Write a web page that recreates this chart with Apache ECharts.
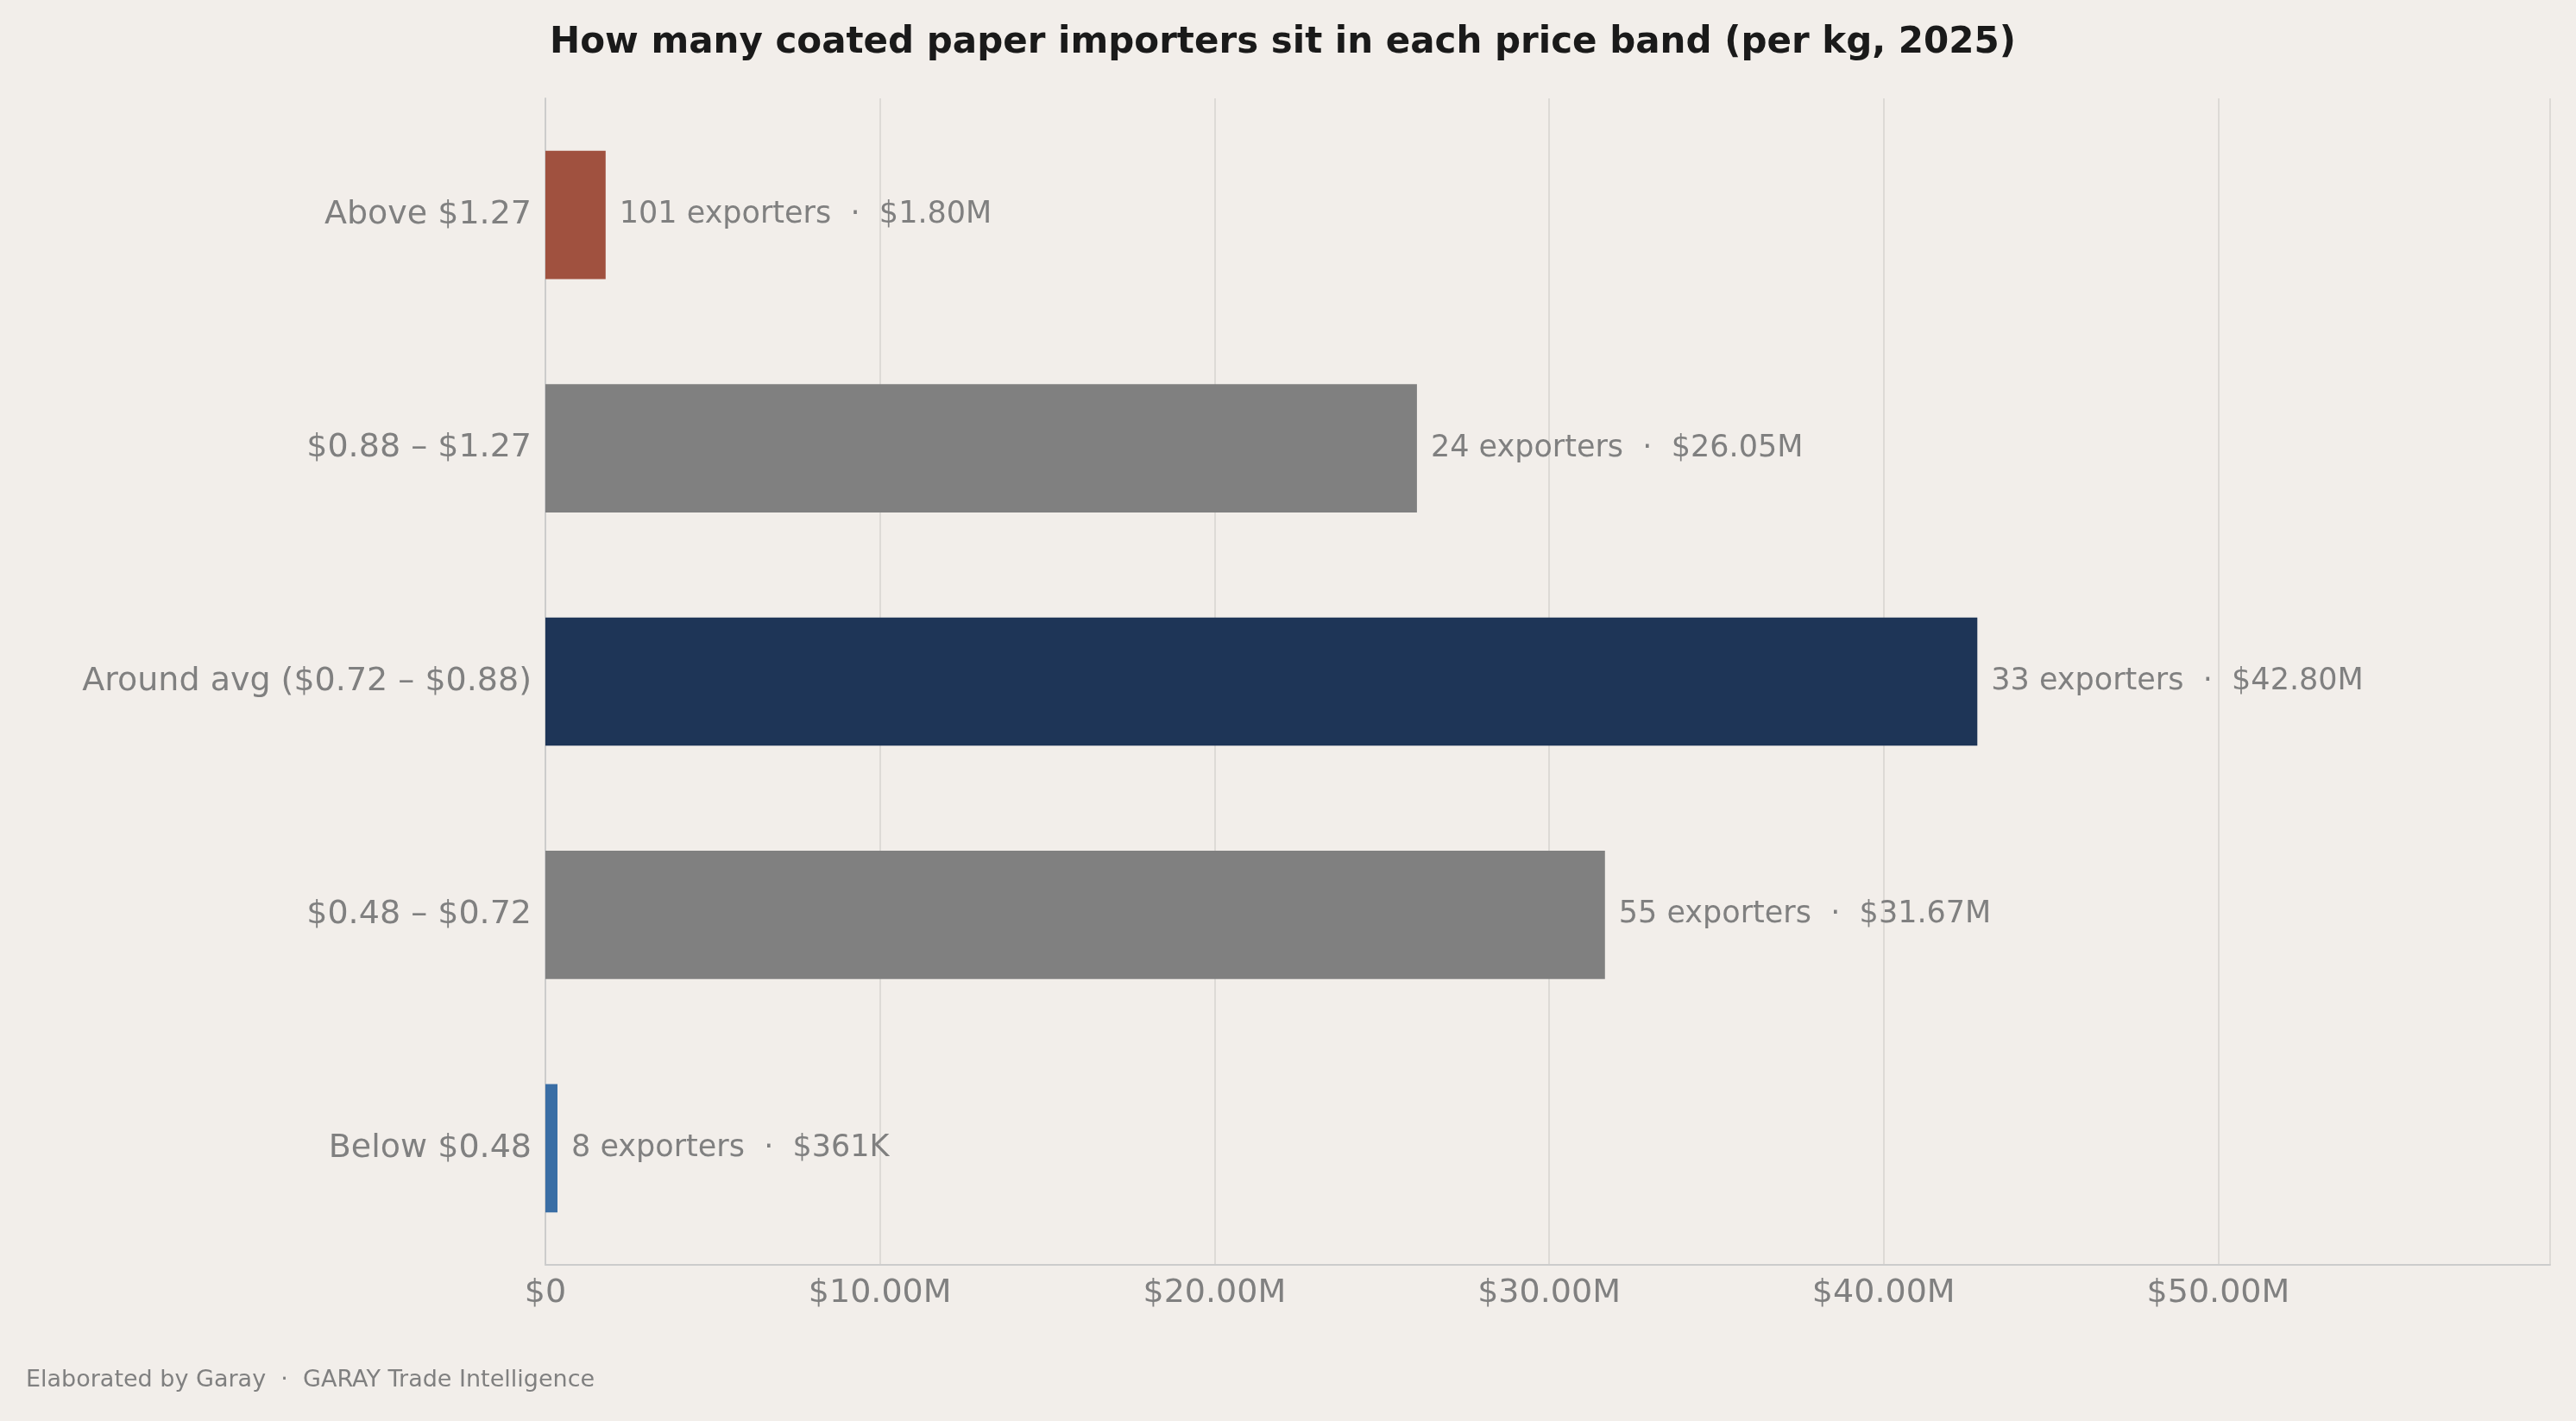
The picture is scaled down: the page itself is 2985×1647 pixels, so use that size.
<!DOCTYPE html>
<html><head><meta charset="utf-8">
<script src="https://cdn.jsdelivr.net/npm/echarts@6/dist/echarts.min.js"></script>
<style>html,body{margin:0;padding:0;background:#F2EEEA}#c{width:2985px;height:1647px}</style>
</head><body><div id="c"></div>
<script>
const categories = ["Below $0.48", "$0.48 – $0.72", "Around avg ($0.72 – $0.88)", "$0.88 – $1.27", "Above $1.27"];
const values = [0.361, 31.67, 42.80, 26.05, 1.80];
const exporters = [8, 55, 33, 24, 101];
const valueLabels = ["$361K", "$31.67M", "$42.80M", "$26.05M", "$1.80M"];
const colors = ["#3A6EA5", "#808080", "#1E3557", "#808080", "#A0513F"];
const chart = echarts.init(document.getElementById('c'));
const font = '"DejaVu Sans", sans-serif';
chart.setOption({
  backgroundColor: '#F2EEEA',
  title: { text: 'How many coated paper importers sit in each price band (per kg, 2025)', left: 632, top: 24,
    textStyle: { fontFamily: font, fontSize: 42, fontWeight: 'bold', color: '#1a1a1a' } },
  graphic: [{ type: 'text', left: 30, top: 1586, style: { text: 'Elaborated by Garay  ·  GARAY Trade Intelligence', font: '27px "DejaVu Sans", sans-serif', fill: '#808080' } }],
  grid: { left: 632, right: 30, top: 114, bottom: 181 },
  xAxis: { type: 'value', min: 0, max: 59.92, interval: 10,
    axisLine: { show: true, lineStyle: { color: '#cccccc', width: 2 } }, axisTick: { show: false },
    splitLine: { lineStyle: { color: '#dddad6', width: 2 } },
    axisLabel: { showMaxLabel: false, fontFamily: font, fontSize: 38, color: '#808080', margin: 14,
      formatter: v => v === 0 ? '$0' : '$' + v.toFixed(2) + 'M' } },
  yAxis: { type: 'category', data: categories,
    axisLine: { show: true, lineStyle: { color: '#cccccc', width: 2 } }, axisTick: { show: false },
    axisLabel: { fontFamily: font, fontSize: 38, color: '#808080', margin: 16 } },
  series: [{ type: 'bar', barCategoryGap: '45%',
    data: values.map((v, i) => ({ value: v, itemStyle: { color: colors[i] } })),
    label: { show: true, position: 'right', distance: 16, fontFamily: font, fontSize: 35, color: '#808080',
      formatter: p => exporters[p.dataIndex] + ' exporters  ·  ' + valueLabels[p.dataIndex] } }]
});
</script></body></html>
